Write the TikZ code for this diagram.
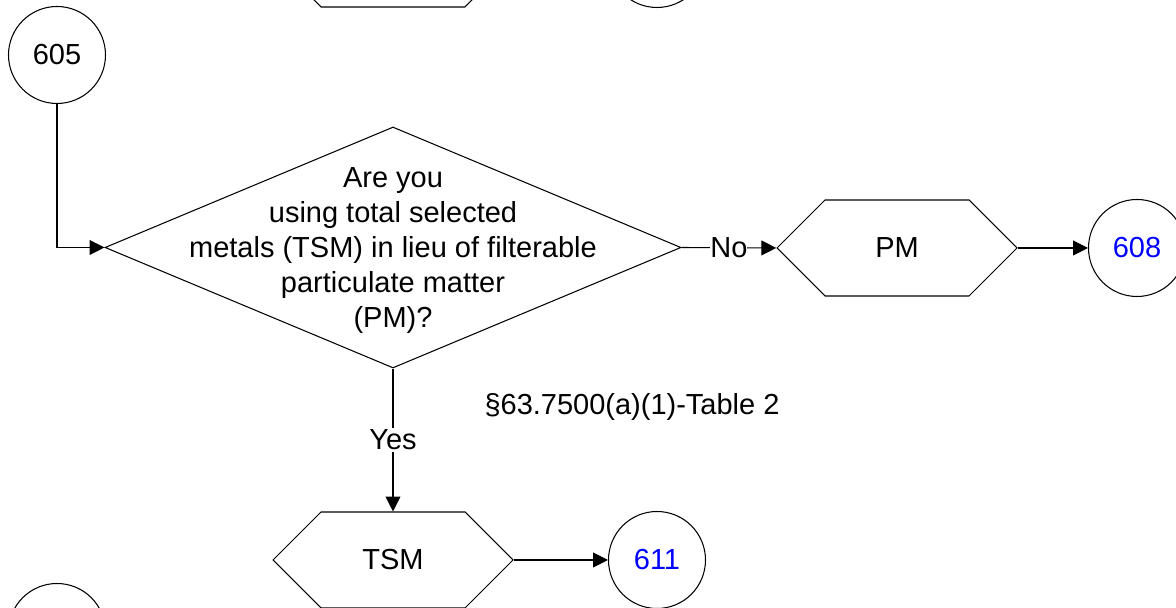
\documentclass[tikz,border=0pt]{standalone}
\usepackage{fontspec}
\setmainfont{Liberation Sans}
\usetikzlibrary{shapes.geometric,shapes.symbols,arrows.meta}
\begin{document}
\begin{tikzpicture}[x=1cm,y=1cm,line width=.6pt,>={Triangle[length=8.5pt,width=8.5pt]},
  font=\fontsize{16.5pt}{19.9pt}\selectfont,
  offpage/.style={draw,circle,minimum size=1.94cm,inner sep=0pt},
  hexa/.style={draw,signal,signal to=east and west,signal pointer angle=90,
    minimum width=4.8cm,minimum height=1.92cm,inner sep=0pt},
  decision/.style={draw,diamond,minimum width=11.52cm,minimum height=4.82cm,inner sep=0pt},
  refnum/.style={text=blue},
  lbl/.style={fill=white,inner xsep=0pt,inner ysep=1pt}]
\path[use as bounding box] (0,0) rectangle (23.52,12.16);
\node[offpage] (c605) at (1.14,11.06) {605};
\node[offpage] (cnext) at (1.14,-.48) {};
\node[hexa] (hprev) at (7.86,12.98) {};
\node[offpage] (cprev) at (13.14,12.98) {};
\node[decision,label={[align=center,yshift=-1.5pt]center:Are you\\using total selected\\metals (TSM) in lieu of filterable\\particulate matter\\(PM)?}] (q) at (7.86,7.21) {};
\node[hexa] (pm) at (17.94,7.2) {PM};
\node[offpage,refnum] (c608) at (22.74,7.2) {608};
\node[hexa] (tsm) at (7.86,.96) {TSM};
\node[offpage,refnum] (c611) at (13.14,.96) {611};
\node (rule) at (12.64,4.02) {\S63.7500(a)(1)-Table 2};
\draw[->] (c605) |- (q.west);
\draw[->] (q.east) -- node[lbl] {No} (pm.west);
\draw[->] (pm.east) -- (c608.west);
\draw[->] (q.south) -- node[lbl] {Yes} (tsm.north);
\draw[->] (tsm.east) -- (c611.west);
\end{tikzpicture}
\end{document}
